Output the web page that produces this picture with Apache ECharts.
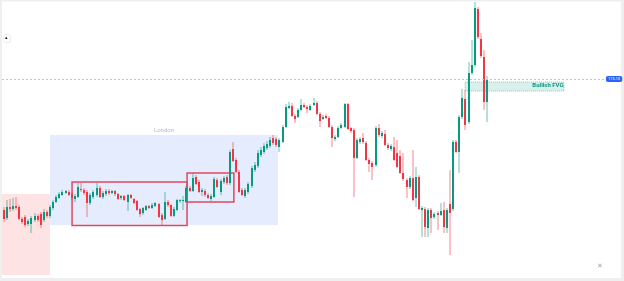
<!DOCTYPE html>
<html><head><meta charset="utf-8">
<script src="https://cdn.jsdelivr.net/npm/echarts@6/dist/echarts.min.js"></script>
<style>html,body{margin:0;padding:0;background:#fff}#c{width:624px;height:281px}</style>
</head><body><div id="c"></div>
<script>
// Candle values (price units)
const candleOpen = [162.0,161.2,162.3,162.1,162.4,162.3,161.1,161.3,160.6,160.6,161.0,161.4,161.6,161.0,161.8,161.4,162.2,162.8,163.2,163.5,163.7,163.8,163.6,163.1,163.3,164.1,164.0,163.8,162.7,163.3,163.5,164.2,163.3,163.6,163.9,163.7,163.9,163.6,163.2,163.4,162.8,163.5,163.1,162.9,162.1,161.7,162.0,162.4,162.2,162.4,162.6,161.5,161.1,162.8,162.5,161.4,162.0,162.9,162.9,162.8,164.2,163.9,165.3,164.8,163.8,163.9,163.5,163.1,163.3,165.0,163.8,164.8,165.3,164.7,168.1,167.0,165.8,164.0,163.4,163.8,164.4,166.0,166.4,167.5,167.8,168.2,168.4,169.2,169.1,168.3,168.8,170.3,172.2,172.4,171.4,171.3,172.0,172.5,172.3,172.0,172.5,172.7,171.6,171.1,171.4,171.2,170.3,169.1,169.3,170.2,170.3,172.6,170.2,170.0,167.2,168.8,169.2,168.7,167.0,166.7,166.5,170.2,169.4,169.6,168.5,168.1,168.3,167.7,167.4,165.7,165.0,164.3,165.2,163.2,165.3,162.0,162.1,160.2,162.0,161.3,161.7,161.5,162.0,160.2,162.6,162.1,168.8,167.8,171.3,173.1,170.8,175.7,176.5,182.1,179.1,177.3,172.8];
const candleClose = [161.1,162.3,162.1,162.4,162.2,161.1,160.8,160.5,160.9,161.2,161.4,161.0,160.5,161.8,161.4,162.3,162.8,163.3,163.6,163.8,163.9,163.5,163.2,163.4,164.3,164.0,163.7,162.7,163.5,163.8,164.2,163.3,163.7,163.9,163.7,163.9,163.6,163.1,163.4,163.0,163.5,163.2,162.7,162.0,161.6,162.2,162.4,162.2,162.5,162.7,161.3,161.0,162.8,162.5,161.4,162.1,163.0,163.0,163.0,164.2,163.9,165.2,164.6,163.8,164.0,163.5,163.2,163.4,165.1,164.3,164.9,165.2,164.7,167.8,166.9,165.8,163.8,163.5,164.0,164.6,166.2,166.5,167.7,168.0,168.4,168.6,169.0,168.7,168.5,169.0,170.3,172.3,172.4,171.4,171.1,172.0,172.5,172.3,172.1,172.4,172.7,171.6,170.9,171.3,171.2,170.3,169.2,169.3,170.2,170.5,172.6,170.1,169.9,167.2,169.0,169.1,168.8,167.0,166.6,166.3,170.2,169.5,169.7,168.5,168.2,168.4,167.0,166.3,165.7,165.1,164.3,165.2,163.0,165.3,162.1,162.2,160.3,162.0,161.2,161.6,161.5,161.9,160.3,162.0,161.7,168.8,167.8,171.3,173.2,170.5,175.7,176.5,182.2,179.3,177.4,172.8,175.1];
const candleLow = [160.8,161.0,161.8,161.9,162.0,161.0,160.6,160.3,160.4,159.7,160.8,160.8,160.2,160.8,161.2,161.2,162.0,162.7,163.1,163.4,163.6,163.4,163.0,162.8,163.2,163.8,163.5,161.3,162.5,163.1,163.3,163.2,163.1,163.4,163.5,163.6,163.4,163.0,163.0,162.9,161.9,163.1,162.6,161.9,161.3,161.5,161.9,162.1,162.1,162.3,161.2,160.5,161.0,162.3,161.3,161.3,161.9,162.7,162.0,162.7,163.8,163.8,164.5,163.7,163.4,163.3,163.1,162.9,163.2,164.2,163.5,164.6,164.5,164.5,166.8,165.7,163.7,163.4,163.2,163.6,164.2,165.8,166.2,167.3,167.6,168.0,168.2,168.5,168.3,167.8,168.7,170.2,172.1,171.3,170.7,171.2,171.9,172.2,171.7,171.9,172.4,171.5,170.3,171.0,171.1,170.2,168.3,168.9,169.2,170.1,170.2,170.0,169.7,163.3,167.1,168.6,168.6,166.9,165.8,165.0,166.3,169.3,169.2,168.4,168.0,167.9,166.9,166.2,165.6,164.9,163.2,164.1,162.9,162.3,162.0,159.3,159.3,159.3,159.7,161.1,160.0,161.4,159.7,159.7,157.5,161.9,167.7,165.7,171.1,170.0,170.6,175.5,176.3,179.1,177.2,172.0,170.8];
const candleHigh = [162.3,163.0,163.1,163.2,163.3,162.5,161.3,161.5,161.1,161.4,161.7,161.6,161.8,162.1,162.0,162.5,163.0,163.5,163.8,164.0,164.0,164.0,163.8,163.6,164.7,164.7,164.2,164.0,163.7,164.0,164.7,164.4,163.9,164.1,164.1,164.0,164.0,163.7,163.5,163.5,163.6,163.6,163.2,163.0,162.2,162.3,162.5,162.5,162.7,162.8,162.7,161.7,163.8,163.0,162.6,162.3,163.1,163.1,163.4,164.4,164.4,165.7,165.5,165.0,164.2,164.1,163.7,163.6,165.3,165.2,165.1,165.4,165.5,168.0,168.8,167.2,166.0,164.2,164.2,164.8,166.4,166.8,168.0,168.3,168.7,168.9,169.3,169.5,169.3,169.2,170.5,172.6,172.8,172.7,171.6,172.2,173.1,172.7,172.5,172.6,173.2,172.9,171.8,171.5,171.6,171.4,170.5,169.5,170.4,170.7,172.7,172.7,170.3,170.2,169.2,169.3,169.7,168.9,167.2,166.9,170.4,170.6,169.9,170.0,168.7,168.6,169.3,169.0,168.0,167.7,165.2,165.4,168.0,166.3,165.5,162.4,162.3,162.2,162.2,161.8,161.9,162.7,162.8,162.2,166.0,169.0,169.0,171.5,174.1,174.0,176.8,179.0,182.8,182.3,179.7,178.0,175.4];

// Zones: [fromIndex, toIndex, lowPrice, highPrice]
const asiaBox = [-0.5, 15.0, 155.5, 163.6];
const londonBox = [15.0, 88.5, 160.5, 169.5];
const rangeBox1 = [22.1, 59.2, 160.45, 164.8];
const rangeBox2 = [59.2, 74.3, 162.8, 165.7];
const fvgBox = [148.9, 180.8, 173.9, 174.8];
const priceLevel = 175.1;
const levelSpan = [-0.5, 194];

const upColor = '#089981', downColor = '#f23645';
const candles = candleOpen.map((o, i) => [i, o, candleClose[i], candleLow[i], candleHigh[i]]);

function box(b, extra) {
  return [Object.assign({ coord: [b[0], b[3]] }, extra || {}), { coord: [b[1], b[2]] }];
}

function renderCandle(params, api) {
  const i = api.value(0), o = api.value(1), c = api.value(2), l = api.value(3), h = api.value(4);
  const pO = api.coord([i, o]), pC = api.coord([i, c]);
  const pH = api.coord([i, h]), pL = api.coord([i, l]);
  const up = c >= o;
  const col = up ? upColor : downColor;
  const bw = 2;
  const x0 = Math.round(pO[0] - bw / 2);
  const top = Math.min(pO[1], pC[1]), bot = Math.max(pO[1], pC[1]);
  return { type: 'group', children: [
    { type: 'line', shape: { x1: x0 + 1, y1: pH[1], x2: x0 + 1, y2: pL[1] }, style: { stroke: col, lineWidth: 1, opacity: 0.6 } },
    { type: 'rect', shape: { x: x0, y: top, width: bw, height: Math.max(bot - top, 1) }, style: { fill: col } }
  ] };
}

const chart = echarts.init(document.getElementById('c'), null, { renderer: 'canvas' });
chart.setOption({
  animation: false,
  backgroundColor: '#efefef',
  textStyle: { fontFamily: 'Roboto, Arial, sans-serif' },
  graphic: [
    { type: 'rect', left: 2, top: 1.5, shape: { width: 619, height: 276.5 }, style: { fill: '#ffffff' }, z: -10 },
    { type: 'rect', left: 3, top: 34, shape: { width: 7, height: 8, r: 2 }, style: { fill: '#ffffff', stroke: '#ececec', lineWidth: 1 }, z: 10 },
    { type: 'text', left: 4.5, top: 35, style: { text: '▴', fontSize: 5, fill: '#131722' }, z: 11 },
    { type: 'text', left: 597, top: 263, style: { text: '✕', fontSize: 7, fill: '#a3a6af' }, z: 11 }
  ],
  grid: { left: 2, right: 3, top: 0, bottom: 0, containLabel: false },
  xAxis: { type: 'value', min: -0.5, max: 199.18, show: false },
  yAxis: { type: 'value', min: 154.9, max: 183.0, show: false, splitLine: { show: false } },
  series: [
    {
      type: 'line', data: [], z: 1, silent: true,
      markArea: {
        silent: true,
        data: [
          box(asiaBox, { itemStyle: { color: '#fde3e3' } }),
          box(londonBox, { itemStyle: { color: '#e4ecfd' }, label: { show: true, position: 'top', formatter: 'London', color: '#a8b9dc', fontSize: 6, distance: 2 } }),
          box(fvgBox, { itemStyle: { color: 'rgba(8,153,129,0.15)', borderColor: 'rgba(8,153,129,0.45)', borderWidth: 1, borderType: 'dotted' },
            label: { show: true, position: 'insideTopRight', formatter: 'Bullish FVG', color: '#089981', fontSize: 6, fontWeight: 'bold', distance: 1 } })
        ]
      },
      markLine: {
        silent: true, symbol: 'none',
        lineStyle: { color: '#b3c8ee', width: 1, type: [2, 2] },
        label: { show: true, position: 'end', formatter: priceLevel.toFixed(2), color: '#ffffff', backgroundColor: '#2962ff', fontSize: 4, padding: [1, 2], borderRadius: 2, distance: 1 },
        data: [[{ coord: [levelSpan[0], priceLevel] }, { coord: [levelSpan[1], priceLevel] }]]
      }
    },
    {
      type: 'custom', data: candles, z: 2, renderItem: renderCandle,
      encode: { x: 0, y: [1, 2, 3, 4] }
    },
    {
      type: 'line', data: [], z: 3, silent: true,
      markArea: {
        silent: true,
        itemStyle: { color: 'rgba(0,0,0,0)', borderColor: '#e2485e', borderWidth: 1.5 },
        data: [box(rangeBox1), box(rangeBox2)]
      }
    }
  ]
});
</script></body></html>
